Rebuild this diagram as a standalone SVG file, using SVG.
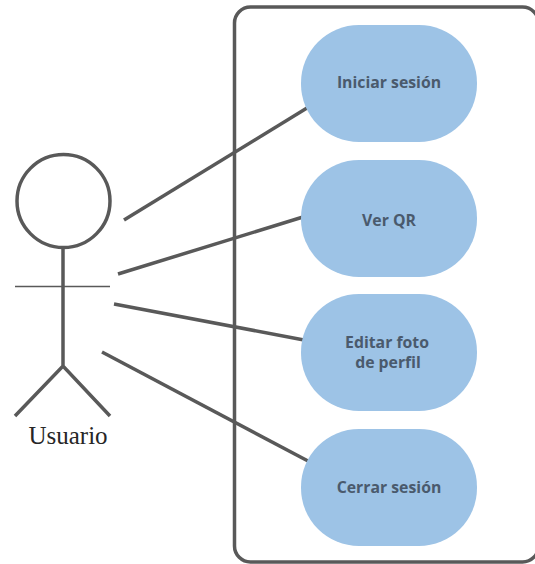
<svg xmlns="http://www.w3.org/2000/svg" width="535" height="564" viewBox="0 0 535 564">
<style>
.pill{fill:#9dc3e6}
.lbl{font-family:"Open Sans","Noto Sans",sans-serif;font-weight:700;font-size:15.800px;fill:#4a5a6d;text-anchor:middle}
.ln{stroke:#595959;stroke-width:3.500;fill:none}
.act{stroke:#595959;stroke-width:3.500;fill:none}
</style>
<rect width="535" height="564" fill="#ffffff"/>
<g id="system-boundary"><rect x="234.500" y="7" width="304" height="555" rx="16" ry="16" fill="none" stroke="#595959" stroke-width="3.500"/></g>
<g id="connectors">
<line class="ln" x1="124" y1="220" x2="307" y2="108"/>
<line class="ln" x1="118" y1="274" x2="303" y2="217"/>
<line class="ln" x1="114" y1="304" x2="304" y2="340"/>
<line class="ln" x1="102" y1="352" x2="308" y2="461"/>
</g>
<g id="actor-usuario">
<circle class="act" cx="63.500" cy="201" r="46.500"/>
<path class="act" d="M63 249V366M15 416L63 366L110 416"/>
<line x1="15" y1="286.500" x2="110" y2="286.500" stroke="#595959" stroke-width="1.500"/>
<text x="68" y="444" font-family="'Liberation Serif',serif" font-size="25" fill="#262626" text-anchor="middle">Usuario</text>
</g>
<g id="uc-iniciar"><rect class="pill" x="301" y="25" width="176" height="117" rx="58"/><text class="lbl" x="389" y="88">Iniciar sesión</text></g>
<g id="uc-verqr"><rect class="pill" x="301" y="160" width="176" height="117" rx="58"/><text class="lbl" x="389" y="226">Ver QR</text></g>
<g id="uc-editar"><rect class="pill" x="301" y="294" width="176" height="117" rx="58"/><text class="lbl" x="387" y="348">Editar foto</text><text class="lbl" x="388" y="368">de perfil</text></g>
<g id="uc-cerrar"><rect class="pill" x="301" y="429" width="176" height="117" rx="58"/><text class="lbl" x="389" y="493">Cerrar sesión</text></g>
</svg>
